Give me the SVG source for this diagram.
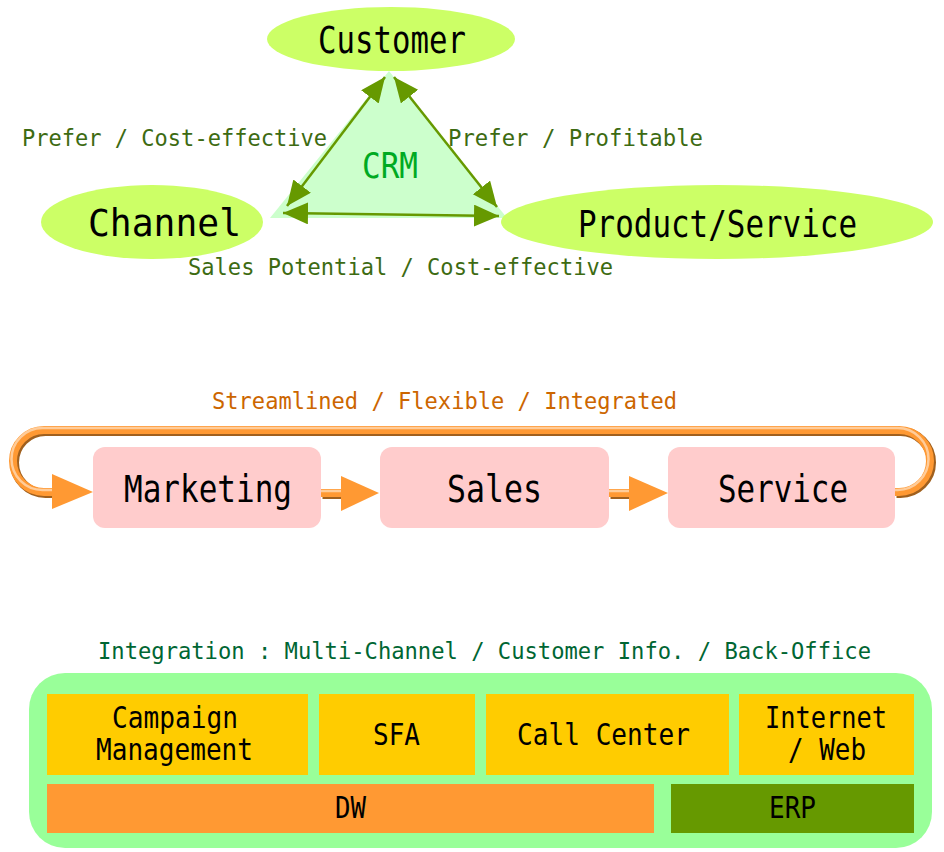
<svg xmlns="http://www.w3.org/2000/svg" width="944" height="852" viewBox="0 0 944 852">
<style>
.t{font-family:"DejaVu Sans Mono","Liberation Mono",monospace}
.big{font-size:37px;fill:#000}
.lbl{font-size:23px}
.box{font-size:30px;fill:#000}
.ell{fill:#ccff66}
.pink{fill:#ffcccc}
.yel{fill:#ffcc00}
.gl{stroke:#669900;stroke-width:2.5;fill:none;marker-start:url(#ga);marker-end:url(#ga)}
.sh{fill:none;stroke:#a0601e;stroke-width:9}
.mn{fill:none;stroke:#ff9933;stroke-width:8}
.hl{fill:none;stroke:#ffcc99;stroke-width:2.5}
.oa{fill:#ff9933}
</style>
<defs>
<marker id="ga" markerUnits="userSpaceOnUse" markerWidth="28" markerHeight="24" refX="25" refY="11" orient="auto-start-reverse">
<path d="M0,0 L25,11 L0,22 z" fill="#669900"/>
</marker>
</defs>
<rect width="944" height="852" fill="#fff"/>

<g id="crm-triangle">
<polygon points="389,71 270,218 507,218" fill="#ccffcc"/>
<text class="t" x="362" y="178" font-size="36" fill="#00aa22" textLength="56" lengthAdjust="spacingAndGlyphs">CRM</text>
</g>

<g id="customer">
<ellipse class="ell" cx="391" cy="39" rx="124" ry="32"/>
<text class="t big" x="318" y="53" textLength="148" lengthAdjust="spacingAndGlyphs">Customer</text>
</g>
<g id="channel">
<ellipse class="ell" cx="152" cy="222" rx="111" ry="37"/>
<text class="t big" x="88" y="236" textLength="153" lengthAdjust="spacingAndGlyphs">Channel</text>
</g>
<g id="product-service">
<ellipse class="ell" cx="717" cy="222" rx="216" ry="37"/>
<text class="t big" x="578" y="237" textLength="279" lengthAdjust="spacingAndGlyphs">Product/Service</text>
</g>

<g id="connectors">
<line class="gl" x1="385" y1="77" x2="287" y2="206"/>
<line class="gl" x1="394" y1="77" x2="497" y2="207"/>
<line class="gl" x1="283" y1="213" x2="499" y2="216"/>
<g id="loop">
<g transform="translate(1.5,1.5)">
<path class="sh" d="M895,492 H899 A31,31 0 0 0 899,430 H44 A31,31 0 0 0 44,492 H60"/>
<path class="sh" d="M321,493 H345"/>
<path class="sh" d="M609,493 H632"/>
</g>
<path class="mn" d="M895,492 H899 A31,31 0 0 0 899,430 H44 A31,31 0 0 0 44,492 H60"/>
<path class="mn" d="M321,493 H345"/>
<path class="mn" d="M609,493 H632"/>
<g transform="translate(-1.5,-2)">
<path class="hl" d="M895,492 H899 A31,31 0 0 0 899,430 H44 A31,31 0 0 0 44,492 H60"/>
<path class="hl" d="M321,493 H345"/>
<path class="hl" d="M609,493 H632"/>
</g>
<polygon class="oa" points="52,474 93,492 52,509"/>
<polygon class="oa" points="341,476 379,493 341,511"/>
<polygon class="oa" points="629,476 668,493 629,511"/>
</g>
</g>

<g id="edge-labels" class="t lbl">
<text x="22" y="146" fill="#3d6b12" textLength="305" lengthAdjust="spacingAndGlyphs">Prefer / Cost-effective</text>
<text x="448" y="146" fill="#3d6b12" textLength="255" lengthAdjust="spacingAndGlyphs">Prefer / Profitable</text>
<text x="188" y="275" fill="#3d6b12" textLength="425" lengthAdjust="spacingAndGlyphs">Sales Potential / Cost-effective</text>
<text x="212" y="409" fill="#cc6600" textLength="465" lengthAdjust="spacingAndGlyphs">Streamlined / Flexible / Integrated</text>
<text x="98" y="659" fill="#006633" textLength="773" lengthAdjust="spacingAndGlyphs">Integration : Multi-Channel / Customer Info. / Back-Office</text>
</g>

<g id="marketing">
<rect class="pink" x="93" y="447" width="228" height="81" rx="12"/>
<text class="t big" x="124" y="502" textLength="168" lengthAdjust="spacingAndGlyphs">Marketing</text>
</g>
<g id="sales">
<rect class="pink" x="380" y="447" width="229" height="81" rx="12"/>
<text class="t big" x="447" y="502" textLength="95" lengthAdjust="spacingAndGlyphs">Sales</text>
</g>
<g id="service">
<rect class="pink" x="668" y="447" width="227" height="81" rx="12"/>
<text class="t big" x="718" y="502" textLength="130" lengthAdjust="spacingAndGlyphs">Service</text>
</g>

<g id="platform">
<rect x="29" y="673" width="903" height="175" rx="36" fill="#99ff99"/>
</g>
<g id="campaign">
<rect class="yel" x="47" y="694" width="261" height="81"/>
<text class="t box" x="112" y="728" textLength="126" lengthAdjust="spacingAndGlyphs">Campaign</text>
<text class="t box" x="96" y="760" textLength="157" lengthAdjust="spacingAndGlyphs">Management</text>
</g>
<g id="sfa">
<rect class="yel" x="319" y="694" width="156" height="81"/>
<text class="t box" x="373" y="745" textLength="47" lengthAdjust="spacingAndGlyphs">SFA</text>
</g>
<g id="call-center">
<rect class="yel" x="486" y="694" width="243" height="81"/>
<text class="t box" x="517" y="745" textLength="173" lengthAdjust="spacingAndGlyphs">Call Center</text>
</g>
<g id="internet-web">
<rect class="yel" x="739" y="694" width="175" height="81"/>
<text class="t box" x="765" y="728" textLength="122" lengthAdjust="spacingAndGlyphs">Internet</text>
<text class="t box" x="788" y="760" textLength="78" lengthAdjust="spacingAndGlyphs">/ Web</text>
</g>
<g id="dw">
<rect x="47" y="784" width="607" height="49" fill="#ff9933"/>
<text class="t box" x="335" y="818" textLength="31" lengthAdjust="spacingAndGlyphs">DW</text>
</g>
<g id="erp">
<rect x="671" y="784" width="243" height="49" fill="#669900"/>
<text class="t box" x="769" y="818" textLength="47" lengthAdjust="spacingAndGlyphs">ERP</text>
</g>
</svg>
